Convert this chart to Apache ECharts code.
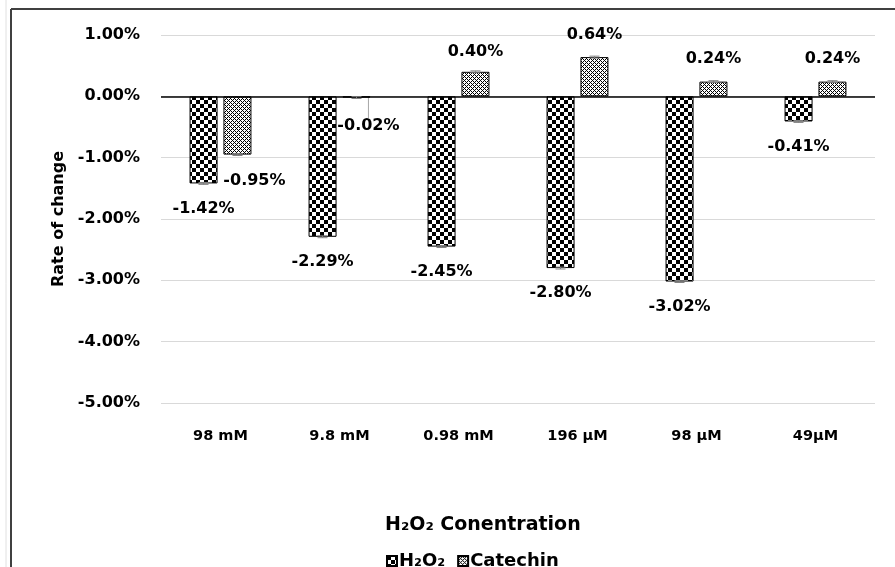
<!DOCTYPE html>
<html>
<head>
<meta charset="utf-8">
<script src="https://cdn.jsdelivr.net/npm/echarts@6/dist/echarts.min.js"></script>
<style>
html,body{margin:0;padding:0;background:#fff;}
#chart{width:895px;height:567px;}
</style>
</head>
<body>
<div id="chart"></div>
<script>
// ---- data ----
var categories = ['98 mM', '9.8 mM', '0.98 mM', '196 µM', '98 µM', '49µM'];
var h2o2Values = [-1.42, -2.29, -2.45, -2.80, -3.02, -0.41];
var catechinValues = [-0.95, -0.02, 0.40, 0.64, 0.24, 0.24];
var h2o2Errors = [0.015, 0.015, 0.015, 0.015, 0.015, 0.015];
var catechinErrors = [0.015, 0.015, 0.015, 0.015, 0.015, 0.015];
var seriesNames = ['H\u2082O\u2082', 'Catechin'];
var yTicks = { min: -5, max: 1, interval: 1 };
var xTitle = 'H\u2082O\u2082 Conentration';
var yTitle = 'Rate of change';

// ---- patterns ----
function checkerPattern() {
  var c = document.createElement('canvas');
  c.width = 8; c.height = 8;
  var g = c.getContext('2d');
  g.fillStyle = '#fff'; g.fillRect(0, 0, 8, 8);
  g.fillStyle = '#000';
  g.fillRect(0, 0, 4, 4); g.fillRect(4, 4, 4, 4);
  return { image: c, repeat: 'repeat' };
}
function diamondPattern() {
  var c = document.createElement('canvas');
  c.width = 4; c.height = 4;
  var g = c.getContext('2d');
  g.fillStyle = '#fff'; g.fillRect(0, 0, 4, 4);
  g.fillStyle = '#000';
  for (var x = 0; x < 4; x++) {
    for (var y = 0; y < 4; y++) {
      if ((x + y) % 4 === 0 || (x - y + 4) % 4 === 0) g.fillRect(x, y, 1, 1);
    }
  }
  return { image: c, repeat: 'repeat' };
}

var FONT = 'DejaVu Sans';
var fmt = function (v) { return v.toFixed(2) + '%'; };

var chart = echarts.init(document.getElementById('chart'), null, { renderer: 'canvas' });

var h2o2Data = h2o2Values.map(function (v) { return { value: v }; });
var catechinData = catechinValues.map(function (v, i) {
  var item = { value: v };
  if (v < 0) {
    item.label = { position: 'bottom', distance: (i === 1 ? 20.5 : 18) };
  } else {
    item.label = { position: 'top', distance: (i === 2 ? 12 : 14.5) };
  }
  return item;
});
catechinData[1].labelLine = { show: true, lineStyle: { color: '#a6a6a6', width: 1 } };

function errorSeries(values, errors, seriesOffset) {
  return {
    type: 'custom',
    silent: true,
    z: 5,
    renderItem: function (params, api) {
      var idx = params.dataIndex;
      var x = api.coord([idx, 0])[0] + seriesOffset;
      var top = api.coord([idx, values[idx] + errors[idx]])[1];
      var bot = api.coord([idx, values[idx] - errors[idx]])[1];
      var style = { stroke: '#7f7f7f', lineWidth: 1 };
      return {
        type: 'group',
        children: [
          { type: 'line', shape: { x1: x, y1: top, x2: x, y2: bot }, style: style },
          { type: 'line', shape: { x1: x - 5, y1: top, x2: x + 5, y2: top }, style: style },
          { type: 'line', shape: { x1: x - 5, y1: bot, x2: x + 5, y2: bot }, style: style }
        ]
      };
    },
    data: values.map(function (v, i) { return [i, v]; })
  };
}

var option = {
  backgroundColor: '#ffffff',
  animation: false,
  textStyle: { fontFamily: FONT },
  grid: { left: 161, right: 20, top: 35, height: 368 },
  title: {
    text: xTitle,
    left: 380, top: 511,
    textStyle: { fontFamily: FONT, fontSize: 19, fontWeight: 'bold', color: '#000' }
  },
  legend: {
    data: seriesNames,
    left: 381, top: 547,
    itemWidth: 10, itemHeight: 10, itemGap: 12,
    icon: 'rect',
    textStyle: { fontFamily: FONT, fontSize: 18, fontWeight: 'bold', color: '#000', padding: [0, 0, 0, -3] }
  },
  xAxis: {
    type: 'category',
    data: categories,
    axisLine: { show: false },
    axisTick: { show: false },
    axisLabel: { margin: 26, fontFamily: FONT, fontSize: 14.5, fontWeight: 'bold', color: '#000' }
  },
  yAxis: {
    type: 'value',
    min: yTicks.min, max: yTicks.max, interval: yTicks.interval,
    name: yTitle,
    nameLocation: 'middle',
    nameRotate: 90,
    nameGap: 93,
    nameTextStyle: { fontFamily: FONT, fontSize: 16, fontWeight: 'bold', color: '#000' },
    axisLine: { show: false },
    axisTick: { show: false },
    splitLine: { lineStyle: { color: '#d9d9d9', width: 1 } },
    axisLabel: { margin: 21, fontFamily: FONT, fontSize: 16, fontWeight: 'bold', color: '#000', formatter: fmt }
  },
  series: [
    {
      name: seriesNames[0],
      type: 'bar',
      barWidth: 28,
      barGap: '21%',
      data: h2o2Data,
      itemStyle: { color: checkerPattern(), borderColor: '#000', borderWidth: 1 },
      label: {
        show: true, position: 'bottom', distance: 17,
        fontFamily: FONT, fontSize: 16, fontWeight: 'bold', color: '#000',
        formatter: function (p) { return fmt(p.value); }
      },
      markLine: {
        silent: true, symbol: 'none', label: { show: false },
        lineStyle: { color: '#000', width: 1.5, type: 'solid' },
        data: [{ yAxis: 0 }]
      }
    },
    {
      name: seriesNames[1],
      type: 'bar',
      barWidth: 28,
      data: catechinData,
      itemStyle: { color: diamondPattern(), borderColor: '#000', borderWidth: 1 },
      label: {
        show: true,
        fontFamily: FONT, fontSize: 16, fontWeight: 'bold', color: '#000',
        formatter: function (p) { return fmt(p.value); }
      },
      labelLayout: function (params) {
        if (params.dataIndex === 0) return { dx: 17 };
        if (params.dataIndex === 1) return { dx: 12 };
        return {};
      }
    },
    errorSeries(h2o2Values, h2o2Errors, -17),
    errorSeries(catechinValues, catechinErrors, 17)
  ],
  graphic: [
    { type: 'line', shape: { x1: 11, y1: 9, x2: 895, y2: 9 }, style: { stroke: '#404040', lineWidth: 2 } },
    { type: 'line', shape: { x1: 11, y1: 9, x2: 11, y2: 567 }, style: { stroke: '#404040', lineWidth: 2 } },
    { type: 'line', shape: { x1: 6, y1: 0, x2: 6, y2: 567 }, style: { stroke: '#e0e0e0', lineWidth: 1 } }
  ]
};
chart.setOption(option);
</script>
</body>
</html>
